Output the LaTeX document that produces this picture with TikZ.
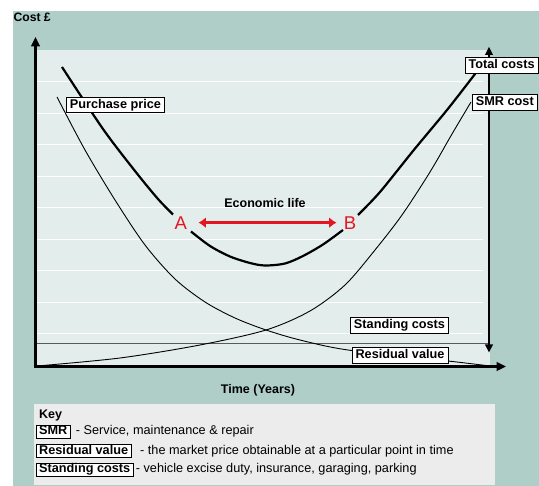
\documentclass[tikz,border=0pt]{standalone}
\usepackage{fontspec}
\setmainfont{Liberation Sans}
\usetikzlibrary{arrows.meta}
\definecolor{tealbg}{RGB}{175,206,200}
\definecolor{plotbg}{RGB}{227,237,235}
\definecolor{keybg}{RGB}{236,236,236}
\definecolor{redar}{RGB}{228,22,34}
\definecolor{stline}{RGB}{90,90,90}
\begin{document}
\begin{tikzpicture}[x=1pt,y=-1pt,
  font=\fontsize{12.5}{15}\selectfont,
  lbl/.style={draw=black, line width=0.8pt, fill=white, font=\fontsize{12.7}{15}\selectfont\bfseries,
    inner xsep=3.5pt, inner ysep=2pt, text height=9pt, text depth=2.5pt},
  klbl/.style={lbl, inner ysep=0.8pt, inner xsep=2.8pt},
  thincurve/.style={line width=0.9pt, black},
  thickcurve/.style={line width=2.2pt, black},
  axisline/.style={line width=2.8pt, black},
  gridline/.style={white, line width=1pt},
  redtxt/.style={text=redar, font=\fontsize{18.5}{20}\selectfont, inner sep=0pt},
  desc/.style={anchor=base west, inner sep=0pt, font=\fontsize{12.7}{15}\selectfont}
]
\useasboundingbox (0,0) rectangle (539,486);
% backgrounds
\fill[tealbg] (13,11) rectangle (539,486);
\fill[plotbg] (37,50) rectangle (490,366);
\foreach \yy in {82,113.5,145,176.5,208,239.5,271,302.5,334}
  \draw[gridline] (37,\yy) -- (483,\yy);
% standing costs line
\coordinate (sl1) at (37,343.3);
\coordinate (sl2) at (489,343.3);
\draw[stline, line width=1.2pt] (sl1) -- (sl2);
% residual / purchase price curve
\draw[thincurve] plot[smooth] coordinates {(57,97) (85,150) (115,200) (145,245) (175,279) (205,302) (235,318) (266,330) (300,340) (348,350) (448,361) (490,366)};
% SMR curve
\draw[thincurve] plot[smooth] coordinates {(37,366) (120,358) (200,345) (266,330) (310,311) (345,285) (375,250) (402,215) (430,172) (452,134) (471,102)};
% total costs curve (three pieces)
\draw[thickcurve] plot[smooth] coordinates {(62,67) (103,129) (135,171) (158,199) (173,214.5)};
\draw[thickcurve] plot[smooth] coordinates {(191,231.5) (210,246) (230,256.5) (250,263) (265,265.5) (285,263.5) (303,256) (323,244.5) (343,230)};
\draw[thickcurve] plot[smooth] coordinates {(358,215) (380,192) (413,151) (447,110) (475,74) (483,63)};
% axes
\coordinate (O) at (35.5,366.5);
\coordinate (yt) at (35.5,37);
\coordinate (xt) at (506,366.5);
\draw[axisline, {Triangle[length=9.4pt,width=8.5pt]}-{Triangle[length=9.4pt,width=8.5pt]}] (yt) -- (O) -- (xt);
\coordinate (rt) at (489,46.7);
\coordinate (rb) at (489,352.5);
\draw[line width=2pt, {Triangle[length=8.3pt,width=7.5pt]}-{Triangle[length=8pt,width=7.5pt]}] (rt) -- (rb);
% labels
\node[anchor=base west, inner sep=0pt, font=\fontsize{12.2}{15}\selectfont\bfseries] (cost) at (13.3,21.7) {Cost £};
\node[lbl, anchor=west] (pp) at (66,105) {Purchase price};
\node[lbl, anchor=east] (tc) at (538.5,65.5) {Total costs};
\node[lbl, anchor=west] (smr) at (472,102.5) {SMR cost};
\node[lbl] (sc) at (399.5,325.5) {Standing costs};
\node[lbl] (rv) at (400,355.5) {Residual value};
\node[anchor=base, inner sep=0pt, font=\fontsize{12.5}{15}\selectfont\bfseries] (el) at (265,208) {Economic life};
\node[anchor=base, inner sep=0pt, font=\fontsize{12.5}{15}\selectfont\bfseries] (tm) at (258,394) {Time (Years)};
% economic life arrow
\node[redtxt] (A) at (180.7,222.65) {A};
\node[redtxt] (B) at (350,222.65) {B};
\draw[redar, line width=3.6pt, {Latex[length=7.5pt,width=11pt]}-{Latex[length=7.5pt,width=11pt]}, shorten <=11.4pt, shorten >=7.1pt] (A) -- (B);
% key
\fill[keybg] (34.3,404.3) rectangle (495,485);
\node[desc, font=\fontsize{12.5}{15}\selectfont\bfseries] (key) at (39,418.3) {Key};
\node[klbl, anchor=west] (k1) at (36,431.7) {SMR};
\node[desc] (d1) at (75.7,435) {- Service, maintenance \& repair};
\node[klbl, anchor=west] (k2) at (36,450.8) {Residual value};
\node[desc] (d2) at (140,454.1) {- the market price obtainable at a particular point in time};
\node[klbl, anchor=west] (k3) at (36,469.5) {Standing costs};
\node[desc] (d3) at (135.7,472.8) {- vehicle excise duty, insurance, garaging, parking};
\end{tikzpicture}
\end{document}
